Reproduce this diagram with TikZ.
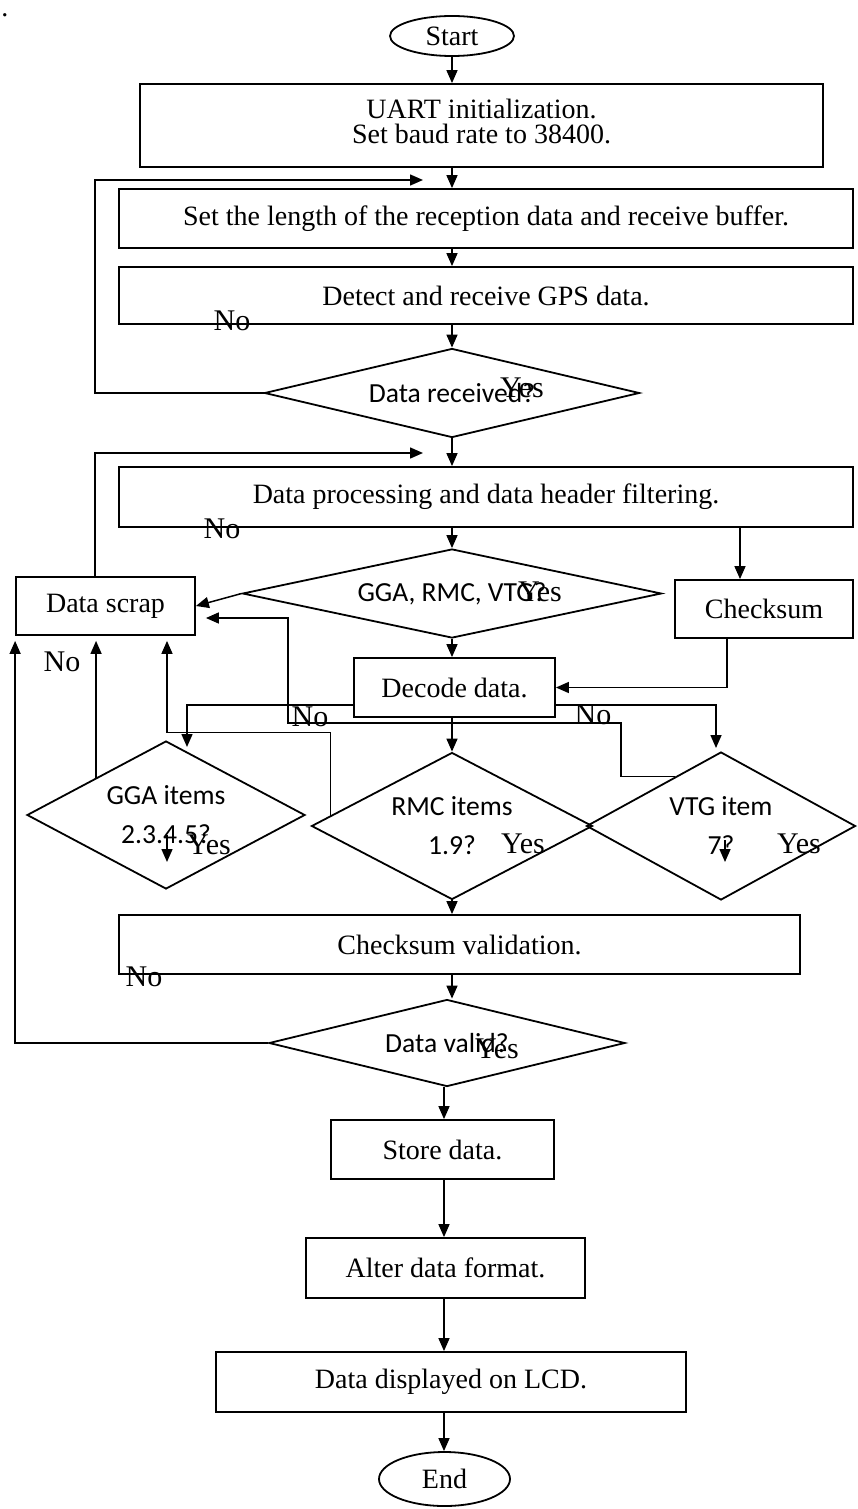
\documentclass[tikz,border=0pt]{standalone}
\usepackage{fontspec}
\setmainfont{Liberation Serif}
\newfontfamily\calib{Carlito}
\usetikzlibrary{shapes.geometric,arrows.meta,calc}
\tikzset{
  box/.style={draw, line width=0.9pt, rectangle, inner sep=0pt, align=center, font=\fontsize{14}{13}\selectfont},
  oval/.style={draw, line width=0.9pt, ellipse, inner sep=0pt, font=\fontsize{14}{13}\selectfont},
  decide/.style={draw, line width=0.9pt, diamond, inner sep=0pt, align=center, font=\calib\fontsize{13.8}{19.5}\selectfont},
  lbl/.style={inner sep=0pt, font=\fontsize{15}{15}\selectfont},
  arr/.style={line width=0.75pt, -{Triangle[length=6.5pt,width=5.5pt]}},
}
\newcommand{\vlink}[3]{\draw[arr] (#1 |- #2.south) -- (#1 |- #3.north);}

\begin{document}
\begin{tikzpicture}[x=0.5pt,y=-0.5pt]
  \useasboundingbox (0,0) rectangle (857,1509);
  \node[inner sep=0.5pt, anchor=base, font=\fontsize{14}{13}\selectfont] (dot) at (5,17) {.};

  % main column
  \node[oval, minimum width=62pt, minimum height=20pt] (start) at (452,36) {Start};
  \node[box, minimum width=341.5pt, minimum height=41.5pt] (uart) at (481.5,125.5)
    {\raisebox{5pt}{\begin{tabular}{@{}c@{}}UART initialization.\\[-1pt]Set baud rate to 38400.\end{tabular}}};
  \node[box, minimum width=367pt, minimum height=29.5pt] (setb) at (486,218.5) {Set the length of the reception data and receive buffer.};
  \node[box, minimum width=367pt, minimum height=28.5pt] (detect) at (486,295.5) {Detect and receive GPS data.};
  \node[decide, aspect=4.2, minimum width=187.5pt, minimum height=44.5pt] (recv) at (452,393) {Data received?};
  \node[box, minimum width=367pt, minimum height=30pt] (proc) at (486,497) {Data processing and data header filtering.};
  \node[decide, aspect=4.7, minimum width=209.5pt, minimum height=44.5pt] (hdr) at (452,593.5) {GGA, RMC, VTG?};
  \node[box, minimum width=89.5pt, minimum height=29pt] (scrap) at (105.5,606) {Data scrap};
  \node[box, minimum width=89pt, minimum height=29pt] (ck) at (764,609) {Checksum};
  \node[box, minimum width=100.5pt, minimum height=29.5pt] (decode) at (454.5,687.5) {Decode data.};
  \node[decide, aspect=1.9, minimum width=139pt, minimum height=74pt] (gga) at (166,815) {GGA items\\2.3.4.5?};
  \node[decide, aspect=1.9, minimum width=140.5pt, minimum height=73.5pt] (rmc) at (452,826) {RMC items\\1.9?};
  \node[decide, aspect=1.9, minimum width=134.5pt, minimum height=74pt] (vtg) at (721,826) {VTG item\\7?};
  \node[box, minimum width=340.5pt, minimum height=29.5pt] (cv) at (459.5,944.5) {Checksum validation.};
  \node[decide, aspect=4, minimum width=178pt, minimum height=43.5pt] (valid) at (447,1043) {Data valid?};
  \node[box, minimum width=111.5pt, minimum height=29.5pt] (store) at (442.5,1149.5) {Store data.};
  \node[box, minimum width=139.5pt, minimum height=30pt] (alter) at (445.5,1268) {Alter data format.};
  \node[box, minimum width=235pt, minimum height=30pt] (lcd) at (451,1382) {Data displayed on LCD.};
  \node[oval, minimum width=65.5pt, minimum height=27pt] (endn) at (444.5,1479) {End};

  % branch labels
  \node[lbl] (no1) at (232,321) {No};
  \node[lbl] (yes1) at (522,388) {Yes};
  \node[lbl] (no2) at (222,529) {No};
  \node[lbl] (yes2) at (540,592) {Yes};
  \node[lbl] (no3) at (62,662) {No};
  \node[lbl] (no4) at (310,717) {No};
  \node[lbl] (no5) at (593,715) {No};
  \node[lbl] (yes3) at (209,845) {Yes};
  \node[lbl] (yes4) at (523,844) {Yes};
  \node[lbl] (yes5) at (799,844) {Yes};
  \node[lbl] (no6) at (144,977) {No};
  \node[lbl] (yes6) at (497,1049) {Yes};

  \coordinate (mx) at (452,0);
  \coordinate (lx) at (444,0);
  \coordinate (lane) at (95,0);
  \coordinate (ckx) at (740,0);
  \coordinate (ckd) at (727,0);
  \coordinate (dlow) at (0,705);
  \coordinate (loopA) at (423,180);
  \coordinate (loopB) at (423,453);
  \coordinate (ggaIn) at (187,747);
  \coordinate (vtgIn) at (716,748);

  \vlink{mx}{start}{uart}
  \vlink{mx}{uart}{setb}
  \vlink{mx}{setb}{detect}
  \vlink{mx}{detect}{recv}
  \vlink{mx}{recv}{proc}
  \draw[arr] (recv.west) -- (lane |- recv.west) |- (loopA);
  \vlink{mx}{proc}{hdr}
  \vlink{ckx}{proc}{ck}
  \draw[arr] (hdr.west) -- (scrap.east);
  \draw[arr] (lane |- scrap.north) |- (loopB);
  \vlink{mx}{hdr}{decode}
  \draw[arr] (ckd |- ck.south) |- (decode.east);
  \draw[arr] (decode.west |- dlow) -| (ggaIn);
  \draw[arr] (decode.east |- dlow) -| (vtgIn);
  \vlink{mx}{decode}{rmc}

  % failed checks back to the scrap box
  \draw[arr] (gga.north west) -- ($(scrap.south -| gga.north west)+(0,5)$);
  \draw[arr] ($(rmc.west)!0.14!(rmc.north)$) -- ++(0,-83) -| ($(scrap.south)+(61.5,5)$);
  \draw[arr] ($(vtg.west)!0.66!(vtg.north)$) -| (621,723) -| (288,618) -- ($(scrap.east)+(10,12)$);
  \draw[arr] (valid.west) -| ($(scrap.south west)+(0,5)$);

  % yes arrows left inside the diamonds
  \draw[arr] ($(gga.center)+(1,20)$) -- ++(0,27);
  \draw[arr] ($(vtg.center)+(4,14)$) -- ++(0,22);

  \vlink{mx}{rmc}{cv}
  \vlink{mx}{cv}{valid}
  \vlink{lx}{valid}{store}
  \vlink{lx}{store}{alter}
  \vlink{lx}{alter}{lcd}
  \vlink{lx}{lcd}{endn}
\end{tikzpicture}
\end{document}
